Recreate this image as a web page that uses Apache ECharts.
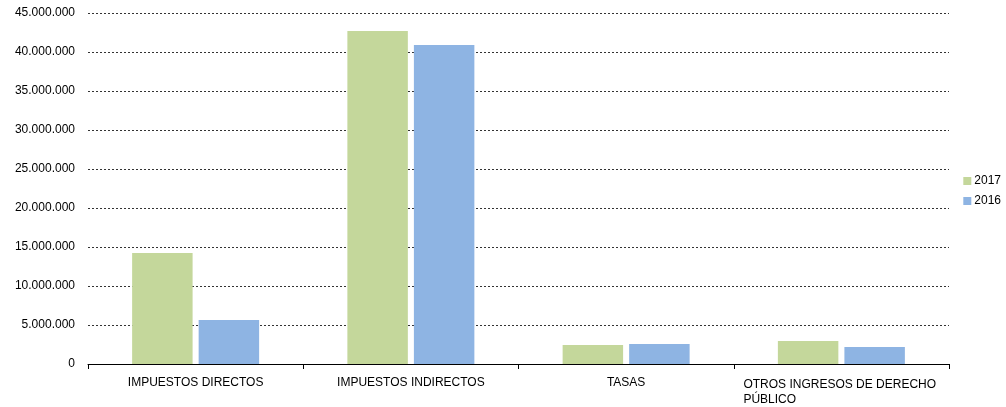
<!DOCTYPE html>
<html>
<head>
<meta charset="utf-8">
<script src="https://cdn.jsdelivr.net/npm/echarts@6/dist/echarts.min.js"></script>
<style>
  html, body { margin: 0; padding: 0; background: #fff; }
</style>
</head>
<body>
<div id="main" style="width: 1006px; height: 407px"></div>
<script>
var categories = [
  "IMPUESTOS DIRECTOS",
  "IMPUESTOS INDIRECTOS",
  "TASAS",
  "OTROS INGRESOS DE DERECHO PÚBLICO"
];
var seriesNames = ["2017", "2016"];
var values2017 = [14230000, 42700000, 2440000, 2950000];
var values2016 = [5640000, 40900000, 2560000, 2180000];

function fmt(v) {
  return String(v).replace(/\B(?=(\d{3})+(?!\d))/g, ".");
}

var myChart = echarts.init(document.getElementById("main"));
var option = {
  animation: false,
  textStyle: { fontFamily: "Liberation Sans, Arial, sans-serif" },
  grid: { left: 88, right: 57, top: 13, bottom: 43 },
  legend: {
    orient: "vertical",
    right: 0,
    top: 170,
    itemWidth: 8,
    itemHeight: 8,
    itemGap: 8,
    icon: "rect",
    textStyle: { fontSize: 12, color: "#000", padding: [0, 0, 0, -2],
                 fontFamily: "Liberation Sans, Arial, sans-serif" },
    data: seriesNames
  },
  xAxis: {
    type: "category",
    data: categories,
    axisLine: { lineStyle: { color: "#000", width: 1 } },
    axisTick: { show: true, length: 5, lineStyle: { color: "#000" } },
    axisLabel: {
      interval: 0,
      color: "#000",
      fontSize: 12,
      margin: 13,
      fontFamily: "Liberation Sans, Arial, sans-serif",
      formatter: function (v) {
        if (v === "OTROS INGRESOS DE DERECHO PÚBLICO") {
          return "{a|OTROS INGRESOS DE DERECHO}\n{a|PÚBLICO}";
        }
        return v;
      },
      rich: {
        a: { width: 196, align: "left", fontSize: 12, color: "#000", lineHeight: 15,
             fontFamily: "Liberation Sans, Arial, sans-serif" }
      }
    }
  },
  yAxis: {
    type: "value",
    min: 0,
    max: 45000000,
    interval: 5000000,
    axisLine: { show: false },
    axisTick: { show: false },
    axisLabel: {
      color: "#000",
      fontSize: 12,
      margin: 13,
      fontFamily: "Liberation Sans, Arial, sans-serif",
      formatter: fmt
    },
    splitLine: {
      lineStyle: { color: "#333", type: [2, 2], width: 1 }
    }
  },
  series: [
    {
      name: seriesNames[0],
      type: "bar",
      data: values2017,
      barGap: "10%",
      barCategoryGap: "41%",
      itemStyle: { color: "#c4d79b" }
    },
    {
      name: seriesNames[1],
      type: "bar",
      data: values2016,
      itemStyle: { color: "#8eb4e3" }
    }
  ]
};
myChart.setOption(option);
</script>
</body>
</html>
